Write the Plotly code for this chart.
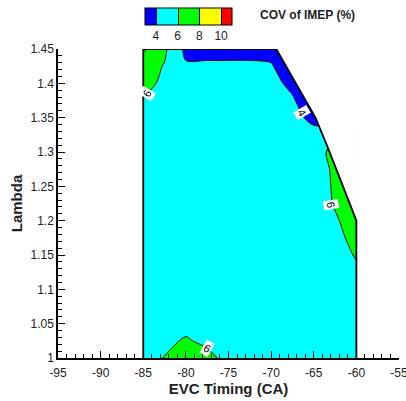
import plotly.graph_objects as go

# EVC timing (deg CA) and lambda grid of the COV-of-IMEP map
evc_timing = [-85, -82.5, -80, -77.5, -75, -72.5, -70, -67.5, -65, -62.5, -60]
lambda_vals = [1.000, 1.025, 1.050, 1.075, 1.100, 1.125, 1.150, 1.175, 1.200,
               1.225, 1.250, 1.275, 1.300, 1.325, 1.350, 1.375, 1.400, 1.425, 1.450]

# COV of IMEP (%) - one row per lambda value, one column per EVC timing
cov_imep = [
    [5.0, 6.1, 7.2, 6.9, 5.0, 4.9, 5.0, 5.1, 5.2, 5.2, 5.2],   # 1.000
    [5.0, 5.3, 6.32, 5.3, 5.0, 4.9, 5.0, 5.1, 5.1, 5.2, 5.3],  # 1.025
    [5.0, 5.0, 5.0, 5.0, 4.9, 4.9, 5.0, 5.0, 5.1, 5.2, 5.3],   # 1.050
    [5.0, 5.0, 4.9, 4.9, 4.9, 4.9, 5.0, 5.0, 5.1, 5.2, 5.3],   # 1.075
    [5.0, 4.9, 4.9, 4.8, 4.8, 4.9, 5.0, 5.0, 5.0, 5.1, 5.4],   # 1.100
    [5.0, 4.9, 4.8, 4.8, 4.8, 4.9, 4.9, 5.0, 5.0, 5.0, 5.6],   # 1.125
    [5.0, 4.9, 4.8, 4.8, 4.8, 4.8, 4.9, 5.0, 5.0, 5.0, 6.19],  # 1.150
    [5.0, 4.9, 4.8, 4.7, 4.7, 4.8, 4.9, 5.0, 5.0, 5.3, 6.76],  # 1.175
    [5.0, 4.9, 4.8, 4.7, 4.7, 4.8, 4.9, 5.0, 5.0, 5.8, 6.8],   # 1.200
    [5.0, 4.9, 4.8, 4.7, 4.7, 4.7, 4.8, 4.9, 5.0, 6.14, 7.0],  # 1.225
    [5.0, 5.0, 4.8, 4.7, 4.7, 4.7, 4.8, 4.9, 5.0, 6.25, 7.0],  # 1.250
    [5.0, 5.0, 4.9, 4.7, 4.7, 4.7, 4.8, 4.9, 5.0, 6.35, 7.0],  # 1.275
    [5.0, 5.0, 4.9, 4.8, 4.7, 4.7, 4.8, 4.9, 5.0, 6.7, 7.0],   # 1.300
    [5.1, 5.0, 4.9, 4.8, 4.7, 4.7, 4.8, 4.9, 5.0, 5.5, 5.0],   # 1.325
    [5.0, 5.0, 4.9, 4.8, 4.7, 4.7, 4.8, 5.0, 3.2, 3.0, 3.0],   # 1.350
    [5.85, 5.0, 4.9, 4.8, 4.7, 4.7, 4.8, 4.4, 1.5, 2.0, 2.0],  # 1.375
    [6.6, 5.6, 5.0, 4.8, 4.7, 4.7, 5.0, 3.2, 2.0, 2.0, 2.0],   # 1.400
    [6.8, 5.9, 4.2, 4.2, 4.2, 4.2, 4.1, 3.2, 2.0, 2.0, 2.0],   # 1.425
    [8.3, 6.3, 3.6, 3.6, 3.6, 3.6, 3.6, 3.0, 2.5, 2.5, 2.5],   # 1.450
]

# outline of the tested operating range
hull_evc = [-85, -85, -69.4, -64.8, -63.3, -60, -60]
hull_lambda = [1.0, 1.45, 1.45, 1.35, 1.305, 1.2, 1.0]

# contour level labels: (EVC, lambda, text, angle)
level_labels = [
    (-84.6, 1.385, "6", -60),
    (-66.35, 1.357, "4", 60),
    (-62.95, 1.223, "6", 80),
    (-77.57, 1.014, "6", 30),
]

x_ticks = [-95, -90, -85, -80, -75, -70, -65, -60, -55]
y_ticks = [1.0, 1.05, 1.1, 1.15, 1.2, 1.25, 1.3, 1.35, 1.4, 1.45]
y_tick_text = ["1", "1.05", "1.1", "1.15", "1.2", "1.25", "1.3", "1.35", "1.4", "1.45"]

FONT = "Arial, Liberation Sans, sans-serif"
BLUE, CYAN, GREEN, YELLOW, RED = "#0000FF", "#00FFFF", "#00FF00", "#FFFF00", "#FF0000"
band_scale = [
    [0.0, BLUE], [0.125, BLUE], [0.125, CYAN], [0.375, CYAN],
    [0.375, GREEN], [0.625, GREEN], [0.625, YELLOW], [0.875, YELLOW],
    [0.875, RED], [1.0, RED],
]

fig = go.Figure()

fig.add_trace(go.Contour(
    x=evc_timing, y=lambda_vals, z=cov_imep,
    zmin=3, zmax=11,
    autocontour=False,
    contours=dict(start=4, end=10, size=2, coloring="fill", showlines=True),
    colorscale=band_scale,
    line=dict(color="black", width=1, smoothing=0.9),
    hoverinfo="skip",
    colorbar=dict(
        orientation="h",
        lenmode="pixels", len=87,
        thickness=17,
        x=0.2551, xanchor="left",
        y=1.1327, yanchor="top",
        xpad=0, ypad=0,
        outlinecolor="black", outlinewidth=1,
        tickvals=[4, 6, 8, 10], ticktext=["4", "6", "8", "10"],
        ticks="",
        tickfont=dict(family=FONT, size=12, color="#222"),
    ),
))

# blank out the untested corner beyond the operating range
fig.add_trace(go.Scatter(
    x=hull_evc[2:6] + [hull_evc[5]],
    y=hull_lambda[2:6] + [hull_lambda[2]],
    fill="toself", fillcolor="white", mode="lines",
    line=dict(color="white", width=1),
    hoverinfo="skip", showlegend=False,
))

fig.add_trace(go.Scatter(
    x=hull_evc, y=hull_lambda, mode="lines",
    line=dict(color="black", width=1.8),
    hoverinfo="skip", showlegend=False,
))

for ex, lam, txt, ang in level_labels:
    fig.add_annotation(
        x=ex, y=lam, text=txt, textangle=ang, showarrow=False,
        bgcolor="white", borderpad=1,
        font=dict(family=FONT, size=11, color="black"),
    )

# colour legend caption
fig.add_annotation(
    xref="paper", yref="paper", x=0.5865, y=1.110,
    xanchor="left", yanchor="middle", showarrow=False,
    text="COV of IMEP (%)",
    font=dict(family=FONT, size=12, color="#222", weight="bold"),
)

fig.update_layout(
    width=406, height=401,
    margin=dict(l=58, r=7, t=49, b=43, autoexpand=False),
    paper_bgcolor="white", plot_bgcolor="white",
    showlegend=False,
    font=dict(family=FONT, color="#222"),
    xaxis=dict(
        range=[-95, -55], tickvals=x_ticks, ticktext=[str(v) for v in x_ticks],
        ticks="inside", ticklen=7, tickwidth=1, tickcolor="black",
        minor=dict(ticks="inside", ticklen=4, tick0=-95, dtick=1, tickcolor="black", tickwidth=1),
        showline=True, linecolor="black", linewidth=1.5,
        showgrid=False, zeroline=False, automargin=False,
        ticklabeloverflow="allow", ticklabelstandoff=3,
        tickfont=dict(family=FONT, size=12, color="#222"),
        title=dict(text="EVC Timing (CA)", standoff=4,
                   font=dict(family=FONT, size=15, color="#222", weight="bold")),
    ),
    yaxis=dict(
        range=[1.0, 1.45], tickvals=y_ticks, ticktext=y_tick_text,
        ticks="inside", ticklen=7, tickwidth=1, tickcolor="black",
        minor=dict(ticks="inside", ticklen=4, tick0=1.0, dtick=0.01, tickcolor="black", tickwidth=1),
        showline=True, linecolor="black", linewidth=1.5,
        showgrid=False, zeroline=False, automargin=False,
        ticklabeloverflow="allow",
        tickfont=dict(family=FONT, size=12, color="#222"),
        title=dict(text="Lambda", standoff=4,
                   font=dict(family=FONT, size=15, color="#222", weight="bold")),
    ),
)

fig.write_html("out.html")
